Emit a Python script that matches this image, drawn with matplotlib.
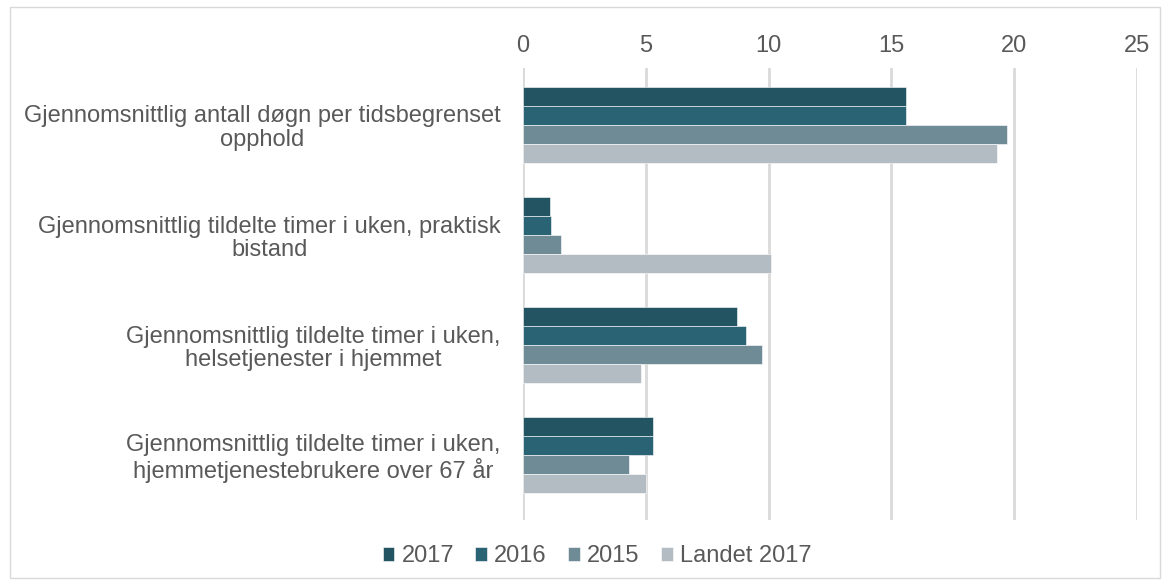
import numpy as np
import matplotlib.pyplot as plt
from matplotlib.patches import Rectangle

plt.rcParams['font.family'] = ['Liberation Sans', 'DejaVu Sans']

kategorier = [
    "Gjennomsnittlig antall døgn per tidsbegrenset\nopphold",
    "Gjennomsnittlig tildelte timer i uken, praktisk\nbistand",
    "Gjennomsnittlig tildelte timer i uken,\nhelsetjenester i hjemmet",
    "Gjennomsnittlig tildelte timer i uken,\nhjemmetjenestebrukere over 67 år",
]
serier = ["2017", "2016", "2015", "Landet 2017"]
v2017 = [15.6, 1.1, 8.7, 5.3]
v2016 = [15.6, 1.13, 9.1, 5.3]
v2015 = [19.7, 1.53, 9.75, 4.33]
landet = [19.3, 10.08, 4.8, 5.0]
farger = ["#235461", "#2a6373", "#6f8b96", "#b2bcc2"]

fig = plt.figure(figsize=(11.69, 5.85), dpi=100)
ax = fig.add_axes([523 / 1169, 65 / 585, 614 / 1169, 452 / 585])

y = np.arange(len(kategorier))
h = 0.173
for i, (navn, vals) in enumerate(zip(serier, [v2017, v2016, v2015, landet])):
    ax.barh(y - 1.5 * h + i * h, vals, height=h, color=farger[i],
            edgecolor="white", linewidth=0.4, label=navn, zorder=3)

ax.set_xlim(0, 25)
ax.set_xticks(range(0, 26, 5))
ax.set_ylim(3.59, -0.518)
ax.set_yticks(y)
ax.set_yticklabels(kategorier, ha="right", multialignment="center", linespacing=1.1)
ax.xaxis.tick_top()
ax.tick_params(axis="both", length=0, labelsize=17, colors="#595959")
ax.tick_params(axis="x", pad=8)
ax.tick_params(axis="y", pad=16)
ax.grid(axis="x", color="#d9d9d9", linewidth=2, zorder=0)
for s in ax.spines.values():
    s.set_visible(False)

ax.legend(loc="center", bbox_to_anchor=((597 - 523) / 614, -0.08),
          ncol=4, frameon=False, fontsize=17, handlelength=0.5, handleheight=0.5,
          handletextpad=0.3, columnspacing=0.9, labelcolor="#595959")

fig.patches.append(Rectangle((10 / 1169, 7 / 585), 1150 / 1169, 571 / 585,
                             transform=fig.transFigure, fill=False,
                             edgecolor="#d9d9d9", linewidth=1))

fig.savefig("out.png", dpi=100)
